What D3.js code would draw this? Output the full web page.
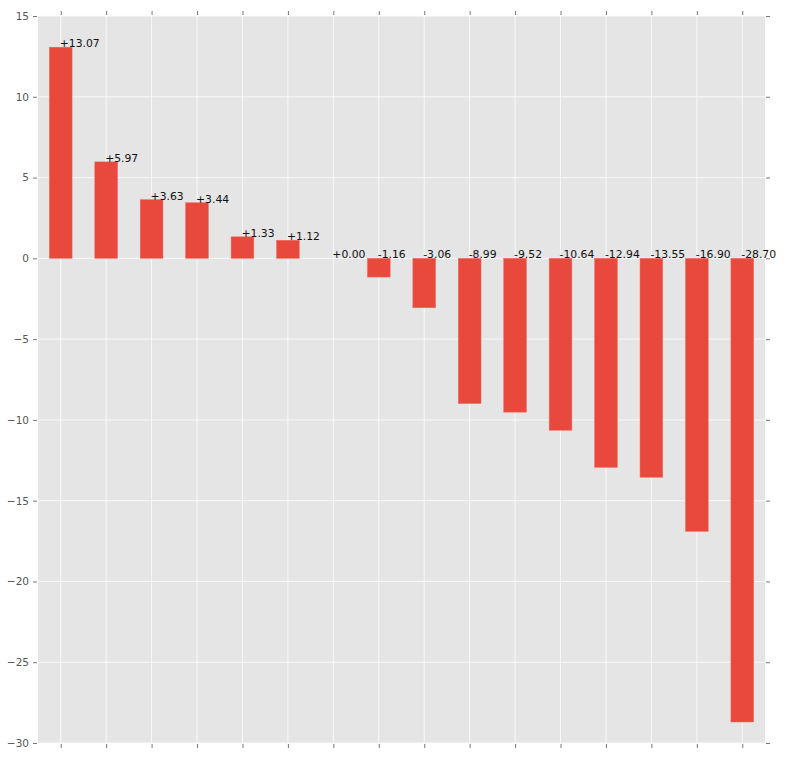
<!DOCTYPE html>
<html><head><meta charset="utf-8">
<script src="https://cdn.jsdelivr.net/npm/d3@7"></script>
<style>body{margin:0;background:#fff;} svg{display:block;}</style>
</head><body>
<svg id="chart" width="785" height="767"></svg>
<script>
const categories = ["0","1","2","3","4","5","6","7","8","9","10","11","12","13","14","15"];
const values = [13.07, 5.97, 3.63, 3.44, 1.33, 1.12, 0.00, -1.16, -3.06, -8.99, -9.52, -10.64, -12.94, -13.55, -16.90, -28.70];
const yTicks = [15, 10, 5, 0, -5, -10, -15, -20, -25, -30];

(function () {
const svg = d3.select("#chart");
const m = {left: 38, right: 765, top: 16, bottom: 743};
const x = d3.scaleLinear().domain([-0.5, 15.5]).range([m.left, m.right]);
const y = d3.scaleLinear().domain([-30, 15]).range([m.bottom, m.top]);
const font = "DejaVu Sans, sans-serif";

svg.append("rect").attr("x", m.left).attr("y", m.top)
  .attr("width", m.right - m.left).attr("height", m.bottom - m.top).attr("fill", "#E5E5E5");

// grid
svg.append("g").selectAll("line").data(yTicks).join("line")
  .attr("x1", m.left).attr("x2", m.right).attr("y1", d => y(d)).attr("y2", d => y(d))
  .attr("stroke", "#fafafa").attr("stroke-width", 0.9);
svg.append("g").selectAll("line").data(categories).join("line")
  .attr("x1", (d, i) => x(i)).attr("x2", (d, i) => x(i)).attr("y1", m.top).attr("y2", m.bottom)
  .attr("stroke", "#fafafa").attr("stroke-width", 0.9);

// axes
const tickFmt = d => d < 0 ? "\u2212" + Math.abs(d) : String(d);
const gLeft = svg.append("g").attr("transform", `translate(${m.left - 1},0)`)
  .call(d3.axisLeft(y).tickValues(yTicks).tickFormat(tickFmt).tickSize(4).tickPadding(4));
const gRight = svg.append("g").attr("transform", `translate(${m.right + 1},0)`)
  .call(d3.axisRight(y).tickValues(yTicks).tickFormat("").tickSize(4));
const gBottom = svg.append("g").attr("transform", `translate(0,${m.bottom + 1})`)
  .call(d3.axisBottom(x).tickValues(d3.range(categories.length)).tickFormat("").tickSize(4));
const gTop = svg.append("g").attr("transform", `translate(0,${m.top - 1})`)
  .call(d3.axisTop(x).tickValues(d3.range(categories.length)).tickFormat("").tickSize(4));
[gLeft, gRight, gBottom, gTop].forEach(g => {
  g.select(".domain").remove();
  g.selectAll(".tick line").attr("stroke", "#777");
  g.selectAll("text").attr("fill", "#555").style("font-family", font).style("font-size", "10.5px");
});

// bars
const bw = 0.5;
svg.append("g").selectAll("rect").data(values).join("rect")
  .attr("x", (d, i) => x(i - bw / 2)).attr("width", x(bw) - x(0))
  .attr("y", d => y(Math.max(0, d))).attr("height", d => Math.abs(y(d) - y(0)))
  .attr("fill", "#E8493C").attr("stroke", "#F06A5C").attr("stroke-width", 0.5);

// labels
svg.append("g").selectAll("text").data(values).join("text")
  .attr("x", (d, i) => x(i) - 1).attr("y", d => y(Math.max(0, d)))
  .attr("fill", "#111").style("font-family", font).style("font-size", "10.8px")
  .text(d => (d >= 0 ? "+" : "-") + Math.abs(d).toFixed(2));
})();
</script>
</body></html>
